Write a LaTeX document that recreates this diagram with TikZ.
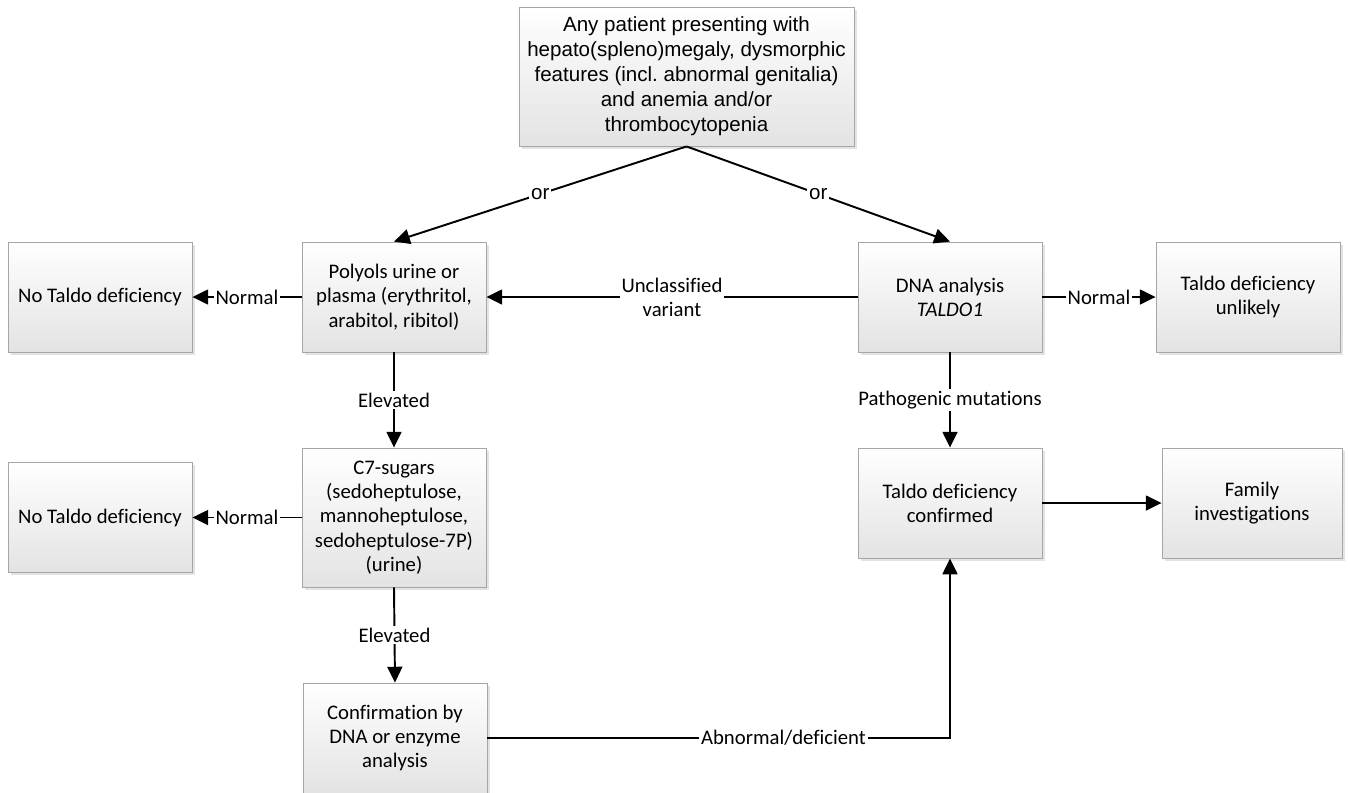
\documentclass[tikz,border=0pt]{standalone}
\usepackage{fontspec}
\setmainfont{Carlito}[Ligatures=NoCommon]
\newfontfamily\arialfont{Liberation Sans}
\usetikzlibrary{arrows.meta,shadows}
\frenchspacing

\begin{document}
\begin{tikzpicture}[x=0.02cm, y=-0.02cm,
    box/.style={draw=gray!70, line width=0.5pt, top color=white, bottom color=gray!22,
      drop shadow={shadow xshift=1.5pt, shadow yshift=-1.5pt, fill=black!22},
      align=center, minimum width=3.68cm, minimum height=2.2cm, inner sep=2pt,
      font=\fontsize{11.8}{13.8}\selectfont},
    arr/.style={line width=1.1pt, -{Triangle[length=9pt,width=8.5pt]}},
    lbl/.style={fill=white, inner sep=1pt, align=center, font=\fontsize{11.8}{13.8}\selectfont},
    orlbl/.style={lbl, font=\arialfont\fontsize{11.7}{14}\selectfont}]
    \useasboundingbox (0,0) rectangle (1350,792);

    \node[box, minimum width=6.7cm, minimum height=2.78cm, font=\arialfont\fontsize{11.7}{14.2}\selectfont] (top) at (686.5,76.5)
        {Any patient presenting with\\hepato(spleno)megaly, dysmorphic\\features (incl. abnormal genitalia)\\and anemia and/or\\thrombocytopenia};
    \node[box] (notaldoA) at (100,297) {No Taldo deficiency};
    \node[box] (polyols) at (394,297) {Polyols urine or\\plasma (erythritol,\\arabitol, ribitol)};
    \node[box] (dna) at (950,297) {DNA analysis\\\textit{TALDO1}};
    \node[box] (unlikely) at (1248,297) {Taldo deficiency\\unlikely};
    \node[box] (notaldoB) at (100,517.5) {No Taldo deficiency};
    \node[box, minimum height=2.78cm] (c7) at (394,517.5) {C7-sugars\\(sedoheptulose,\\mannoheptulose,\\sedoheptulose-7P)\\(urine)};
    \node[box] (confirmed) at (950,503) {Taldo deficiency\\confirmed};
    \node[box, minimum width=3.6cm] (family) at (1252,503) {Family\\investigations};
    \node[box] (confirm) at (395,738) {Confirmation by\\DNA or enzyme\\analysis};

    \draw[arr] (top.south) -- node[orlbl]{or} (polyols.north);
    \draw[arr] (top.south) -- node[orlbl]{or} (dna.north);
    \draw[arr] (polyols.west) -- node[lbl]{Normal} (notaldoA.east);
    \draw[arr] (dna.west) -- node[lbl]{Unclassified\\variant} (polyols.east);
    \draw[arr] (dna.east) -- node[lbl]{Normal} (unlikely.west);
    \draw[arr] (polyols.south) -- node[lbl]{Elevated} (c7.north);
    \draw[arr] (dna.south) -- node[lbl]{Pathogenic mutations} (confirmed.north);
    \draw[arr] (c7.west) -- node[lbl]{Normal} (notaldoB.east);
    \draw[arr] (c7.south) -- node[lbl]{Elevated} (confirm.north);
    \draw[arr] (confirm.east) -| node[lbl, pos=0.32]{Abnormal/deficient} (confirmed.south);
    \draw[arr] (confirmed.east) -- (family.west);
\end{tikzpicture}
\end{document}
